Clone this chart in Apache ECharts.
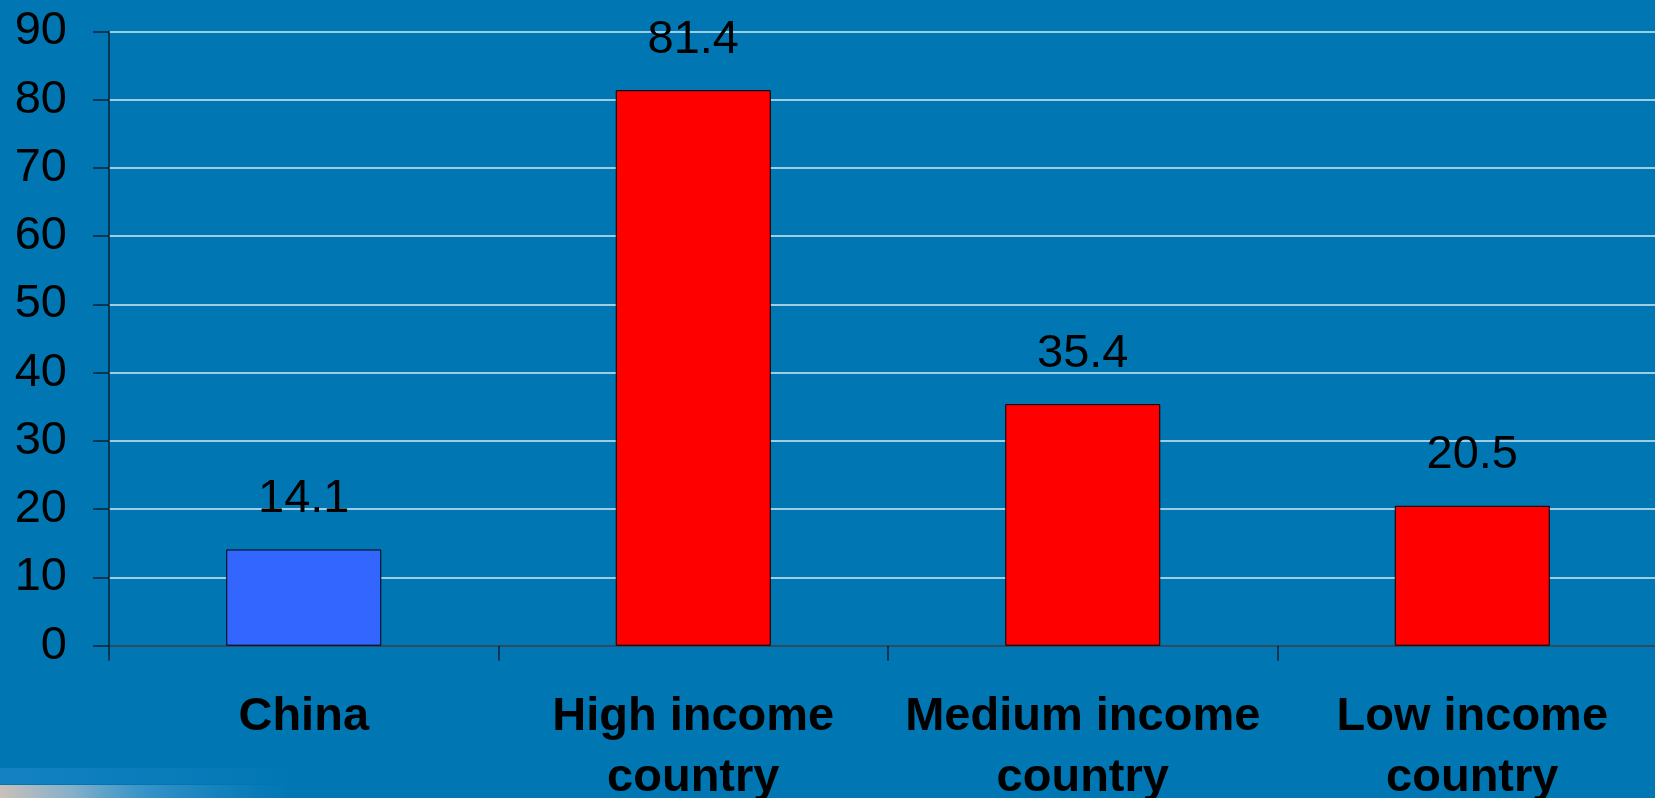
<!DOCTYPE html>
<html>
<head>
<meta charset="utf-8">
<script src="https://cdn.jsdelivr.net/npm/echarts@6/dist/echarts.min.js"></script>
<style>
html,body{margin:0;padding:0;background:#0077B3;}
#c{width:1655px;height:798px;}
</style>
</head>
<body>
<div id="c"></div>
<script>
const categories = ['China', 'High income\ncountry', 'Medium income\ncountry', 'Low income\ncountry'];
const values = [14.1, 81.4, 35.4, 20.5];
const barColors = ['#3366FF', '#FF0000', '#FF0000', '#FF0000'];
const yTicks = { min: 0, max: 90, interval: 10 };

const chart = echarts.init(document.getElementById('c'), null, { renderer: 'canvas' });
chart.setOption({
  backgroundColor: '#0077B3',
  animation: false,
  graphic: [
    {
      type: 'rect', silent: true, z: -1,
      shape: { x: 0, y: 768, width: 300, height: 16 },
      style: { fill: new echarts.graphic.LinearGradient(0, 0, 1, 0, [
        { offset: 0, color: 'rgba(40,140,210,0.5)' },
        { offset: 1, color: 'rgba(40,140,210,0)' }
      ]) }
    },
    {
      type: 'rect', silent: true, z: -1,
      shape: { x: 0, y: 785, width: 290, height: 13 },
      style: { fill: new echarts.graphic.LinearGradient(0, 0, 1, 0, [
        { offset: 0, color: 'rgba(225,200,185,0.9)' },
        { offset: 0.25, color: 'rgba(190,200,210,0.7)' },
        { offset: 0.5, color: 'rgba(110,175,220,0.5)' },
        { offset: 1, color: 'rgba(60,150,215,0)' }
      ]) }
    }
  ],
  grid: {
    left: 109, top: 31.5, width: 1558, height: 614.2,
    containLabel: false, outerBoundsMode: 'none'
  },
  xAxis: {
    type: 'category',
    data: categories,
    axisLine: { show: true, lineStyle: { color: '#0a2236', width: 1.5 } },
    axisTick: { show: true, length: 15, lineStyle: { color: '#0a2236', width: 1.5 } },
    axisLabel: {
      color: '#000', fontFamily: 'Liberation Sans', fontWeight: 'bold', fontSize: 47,
      lineHeight: 61, margin: 41, interval: 0
    },
    splitLine: { show: false }
  },
  yAxis: {
    type: 'value',
    min: yTicks.min, max: yTicks.max, interval: yTicks.interval,
    axisLine: { show: true, lineStyle: { color: '#0a2236', width: 1.5 } },
    axisTick: { show: true, length: 16, lineStyle: { color: '#0a2236', width: 1.5 } },
    axisLabel: {
      color: '#000', fontFamily: 'Liberation Sans', fontSize: 47, margin: 42,
      padding: [0, 0, 11, 0]
    },
    splitLine: { show: true, lineStyle: { color: '#d2e9f5', width: 1.5 } }
  },
  series: [{
    type: 'bar',
    data: values.map((v, i) => ({ value: v, itemStyle: { color: barColors[i] } })),
    barWidth: 155,
    itemStyle: { borderColor: '#000', borderWidth: 1 },
    label: {
      show: true, position: 'top', distance: 27,
      color: '#000', fontFamily: 'Liberation Sans', fontSize: 47, lineHeight: 47
    }
  }]
});
</script>
</body>
</html>
